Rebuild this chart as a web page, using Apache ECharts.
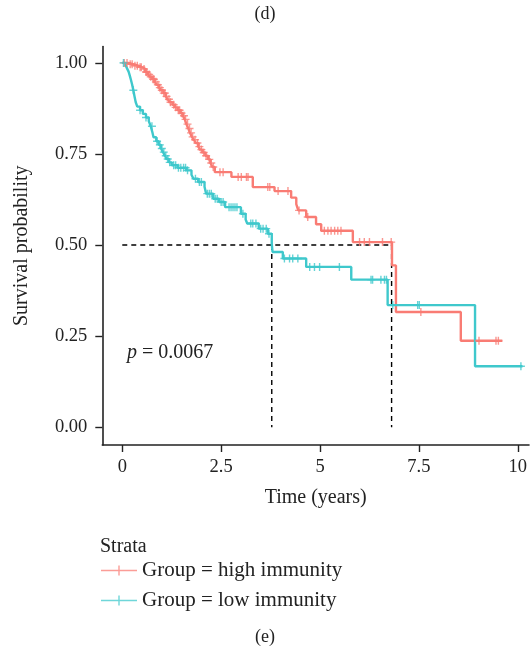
<!DOCTYPE html>
<html>
<head>
<meta charset="utf-8">
<script src="https://cdn.jsdelivr.net/npm/echarts@6/dist/echarts.min.js"></script>
<style>html,body{margin:0;padding:0;background:#fff}#c{width:530px;height:652px}</style>
</head>
<body>
<div id="c"></div>
<script>
// ---- data ----
const groupNames = ['Group = high immunity', 'Group = low immunity'];
const xTicks = [0, 2.5, 5, 7.5, 10];
const yTicks = [0, 0.25, 0.5, 0.75, 1];
const pValueText = '0.0067';
const medianLevel = 0.5;
const medianTimes = [3.78, 6.81];

// Kaplan–Meier steps: [time, survival after event]
const highSteps = [[0,1],[0.15,0.996],[0.30,0.992],[0.42,0.988],[0.50,0.983],[0.58,0.975],[0.65,0.968],[0.70,0.962],[0.76,0.955],[0.82,0.948],[0.87,0.940],[0.93,0.932],[0.98,0.925],[1.04,0.917],[1.10,0.908],[1.15,0.900],[1.20,0.892],[1.27,0.885],[1.33,0.878],[1.40,0.870],[1.47,0.862],[1.53,0.855],[1.58,0.845],[1.62,0.832],[1.67,0.820],[1.71,0.808],[1.76,0.797],[1.81,0.789],[1.86,0.780],[1.92,0.770],[1.97,0.762],[2.03,0.754],[2.10,0.745],[2.17,0.735],[2.23,0.725],[2.28,0.714],[2.34,0.700],[2.76,0.687],[3.30,0.659],[3.85,0.648],[4.27,0.630],[4.40,0.612],[4.45,0.595],[4.65,0.577],[4.90,0.557],[5.03,0.539],[5.83,0.508],[6.82,0.444],[6.92,0.316],[8.56,0.237],[9.61,0.237]];
const lowSteps = [[0,1],[0.08,0.994],[0.12,0.985],[0.16,0.976],[0.19,0.965],[0.22,0.953],[0.25,0.940],[0.28,0.925],[0.31,0.908],[0.34,0.892],[0.38,0.880],[0.45,0.870],[0.52,0.860],[0.60,0.850],[0.67,0.840],[0.72,0.826],[0.76,0.810],[0.79,0.796],[0.86,0.785],[0.92,0.775],[0.98,0.765],[1.03,0.755],[1.08,0.745],[1.12,0.736],[1.18,0.727],[1.25,0.719],[1.40,0.712],[1.62,0.705],[1.75,0.693],[1.80,0.682],[1.92,0.673],[2.08,0.660],[2.12,0.641],[2.30,0.627],[2.45,0.618],[2.60,0.604],[3.00,0.586],[3.12,0.570],[3.16,0.559],[3.45,0.545],[3.68,0.531],[3.78,0.503],[3.80,0.481],[4.06,0.463],[4.65,0.440],[5.79,0.405],[6.71,0.335],[8.92,0.167],[10.12,0.167]];

// censoring times
const highCensor = [0.05,0.12,0.20,0.25,0.32,0.38,0.45,0.48,0.55,0.60,0.62,0.68,0.72,0.78,0.80,0.85,0.90,0.95,1.00,1.05,1.08,1.12,1.18,1.22,1.30,1.35,1.42,1.45,1.50,1.56,1.60,1.65,1.70,1.74,1.78,1.84,1.90,1.95,2.00,2.06,2.12,2.20,2.25,2.30,2.47,2.55,2.93,3.01,3.14,3.18,3.68,3.73,3.94,4.19,4.47,4.69,5.11,5.20,5.28,5.37,5.45,5.53,6.00,6.12,6.25,6.58,6.80,7.55,9.02,9.45,9.51];
const lowCensor = [0.03,0.28,0.45,0.60,0.75,0.88,0.95,1.00,1.05,1.10,1.15,1.20,1.30,1.35,1.42,1.48,1.55,1.60,1.65,1.85,1.95,2.00,2.15,2.20,2.25,2.35,2.40,2.50,2.55,2.70,2.75,2.80,2.85,2.90,3.05,3.25,3.30,3.38,3.50,3.56,3.64,3.71,4.10,4.23,4.31,4.44,4.74,4.86,4.99,5.49,6.29,6.33,6.54,6.63,6.68,6.84,7.47,7.51,10.08];

// ---- build ----
const colors = ['#F97C74', '#3FC8CC'];
const FONT = '"Liberation Serif", "DejaVu Serif", serif';
function survAt(steps, t) {
  let s = steps[0][1];
  for (const p of steps) { if (p[0] <= t) s = p[1]; else break; }
  return s;
}
const plus = 'path://M5,0V10M0,5H10';
const chart = echarts.init(document.getElementById('c'), null, {renderer: 'canvas'});
const allSteps = [highSteps, lowSteps];
const allCensor = [highCensor, lowCensor];
const series = [];
allSteps.forEach((st, i) => {
  series.push({
    name: groupNames[i], type: 'line', step: 'end', data: st, showSymbol: false,
    lineStyle: {color: colors[i], width: 2.4}, itemStyle: {color: colors[i]},
    z: 3, silent: true, animation: false
  });
  series.push({
    name: groupNames[i], type: 'scatter', symbol: plus, symbolSize: 8,
    data: allCensor[i].map(t => [t, survAt(st, t)]),
    itemStyle: {color: 'none', borderColor: colors[i], borderWidth: 1.4},
    z: 4, silent: true, animation: false
  });
});
// median dashed guides
const dash = {color: '#000', width: 1.4, type: [5, 4]};
series.push({
  type: 'line', data: [[0, medianLevel], [Math.max(...medianTimes), medianLevel]],
  showSymbol: false, lineStyle: dash, z: 2, silent: true, animation: false
});
medianTimes.forEach(t => {
  series.push({
    type: 'line', data: [[t, medianLevel], [t, 0]],
    showSymbol: false, lineStyle: dash, z: 2, silent: true, animation: false
  });
});

chart.setOption({
  animation: false,
  textStyle: {fontFamily: FONT},
  title: [
    {text: '(d)', left: 'center', top: 0, textStyle: {fontFamily: FONT, fontSize: 18, fontWeight: 'normal', color: '#222'}},
    {text: '(e)', left: 'center', top: 623, textStyle: {fontFamily: FONT, fontSize: 18, fontWeight: 'normal', color: '#222'}},
    {text: 'Strata', left: 95, top: 532, textStyle: {fontFamily: FONT, fontSize: 20, fontWeight: 'normal', color: '#222'}}
  ],
  grid: {left: 102.3, right: 0, top: 46.5, bottom: 207, containLabel: false},
  xAxis: {
    type: 'value', min: -0.505, max: 10.285,
    name: 'Time (years)', nameLocation: 'middle', nameGap: 43,
    nameTextStyle: {fontFamily: FONT, fontSize: 20, color: '#222'},
    axisLine: {show: true, onZero: false, lineStyle: {color: '#222', width: 1.6}},
    axisTick: {show: true, length: 7, customValues: xTicks, lineStyle: {color: '#222', width: 1.4}},
    axisLabel: {customValues: xTicks, margin: 13, fontFamily: FONT, fontSize: 18.5, color: '#222',
      formatter: v => String(v)},
    splitLine: {show: false}
  },
  yAxis: {
    type: 'value', min: -0.049, max: 1.045,
    name: 'Survival probability', nameLocation: 'middle', nameGap: 71, nameRotate: 90,
    nameTextStyle: {fontFamily: FONT, fontSize: 20, color: '#222'},
    axisLine: {show: true, onZero: false, lineStyle: {color: '#222', width: 1.6}},
    axisTick: {show: true, length: 7, customValues: yTicks, lineStyle: {color: '#222', width: 1.4}},
    axisLabel: {customValues: yTicks, margin: 15, fontFamily: FONT, fontSize: 18.5, color: '#222',
      formatter: v => v.toFixed(2)},
    splitLine: {show: false}
  },
  legend: {
    orient: 'vertical', left: 96, top: 555, itemGap: 9, itemWidth: 36, itemHeight: 10,
    icon: 'path://M0,4.3H36V5.7H0ZM17.3,0H18.7V10H17.3Z',
    data: groupNames.map((n, i) => ({name: n, itemStyle: {color: colors[i], opacity: 0.75}})),
    textStyle: {fontFamily: FONT, fontSize: 21, color: '#222', lineHeight: 21},
    selectedMode: false
  },
  graphic: [{
    type: 'text', left: 127, top: 343,
    style: {
      text: '{i|p} = ' + pValueText,
      font: '20px ' + FONT, fill: '#222',
      rich: {i: {fontStyle: 'italic', fontFamily: FONT, fontSize: 20, fill: '#222'}}
    }
  }],
  series: series
});
</script>
</body>
</html>
